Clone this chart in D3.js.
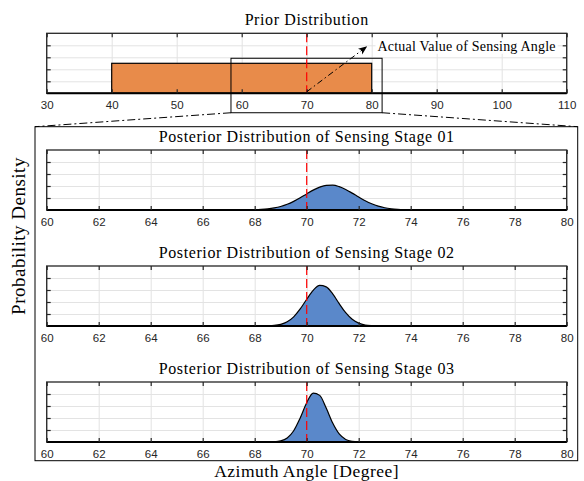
<!DOCTYPE html>
<html>
<head>
<meta charset="utf-8">
<script src="https://cdn.jsdelivr.net/npm/d3@7"></script>
<style>
  body { margin: 0; background: #fff; }
  .tick text { font-family: "Liberation Sans", Arial, sans-serif; font-size: 11.5px; fill: #262626; }
  .title { font-family: "Liberation Serif", "Times New Roman", serif; font-size: 16px; letter-spacing: 0.6px; fill: #000; }
</style>
</head>
<body>
<svg id="chart" width="584" height="481"></svg>
<script>
// prior: uniform angle range
var priorTicks = [30, 40, 50, 60, 70, 80, 90, 100, 110],
    priorRange = [40, 80],
    priorDensity = 0.025,
    priorYTicks = [0.01, 0.02, 0.03, 0.04];

// true sensing angle
var actualAngle = 70;

// posterior sample angles (deg)
var angles = [60, 67.5, 67.75, 68, 68.25, 68.5, 68.75, 69, 69.25, 69.5, 69.75, 70, 70.25, 70.5,
              70.75, 71, 71.25, 71.5, 71.75, 72, 72.25, 72.5, 72.75, 73, 73.25, 73.5, 73.75, 74, 74.25, 74.5, 80];

// posterior densities
var stage01 = [0, 0.001, 0.002, 0.004, 0.009, 0.018, 0.034, 0.059, 0.095, 0.144, 0.203, 0.268, 0.331, 0.381,
               0.411, 0.414, 0.389, 0.342, 0.281, 0.216, 0.155, 0.104, 0.065, 0.038, 0.021, 0.011, 0.005, 0.002, 0.001, 0, 0];
var stage02 = [0, 0, 0, 0, 0.001, 0.003, 0.009, 0.028, 0.071, 0.153, 0.284, 0.446, 0.595, 0.676,
               0.652, 0.535, 0.373, 0.221, 0.111, 0.048, 0.017, 0.005, 0.001, 0, 0, 0, 0, 0, 0, 0, 0];
var stage03 = [0, 0, 0, 0, 0, 0.001, 0.004, 0.018, 0.067, 0.188, 0.401, 0.654, 0.816, 0.777,
               0.566, 0.315, 0.134, 0.043, 0.011, 0.002, 0, 0, 0, 0, 0, 0, 0, 0, 0, 0, 0];

var stageTitles = ['Posterior Distribution of Sensing Stage 01',
                   'Posterior Distribution of Sensing Stage 02',
                   'Posterior Distribution of Sensing Stage 03'];
var postTicks = [60, 62, 64, 66, 68, 70, 72, 74, 76, 78, 80],
    postYTicks = [0.2, 0.4, 0.6, 0.8];

// zoom window drawn on the prior
var zoomBox = {x0: 58.35, x1: 81.6, y0: -0.0162, y1: 0.0292};
var arrowEnd = {x: 79.2, y: 0.0388};

var svg = d3.select('#chart');

//plot extent
var left = 46.7, right = 566.7, plotH = 60;
var x = d3.scaleLinear().domain([30, 110]).range([left, right]);
var xp = d3.scaleLinear().domain([60, 80]).range([left, right]);

//arrow marker
var defs = svg.append('defs');
defs.append('marker')
    .attr('id', 'arrow')
    .attr('viewBox', '0 0 10 10')
    .attr('refX', 9).attr('refY', 5)
    .attr('markerWidth', 9).attr('markerHeight', 9)
    .attr('markerUnits', 'userSpaceOnUse')
    .attr('orient', 'auto')
  .append('path')
    .attr('d', 'M0,1 L10,5 L0,9 L2.5,5 Z')
    .attr('fill', '#000');

//draw one framed panel with grid and title
function panel(top, xs, xTicks, yDomain, yTicks, title) {
    var y = d3.scaleLinear().domain(yDomain).range([top + plotH, top]);
    var g = svg.append('g');

    //grid
    g.append('g')
        .attr('transform', 'translate(0,' + top + ')')
        .call(d3.axisBottom(xs).tickValues(xTicks).tickSize(plotH).tickFormat(''))
        .call(s => s.select('.domain').remove())
        .selectAll('line').attr('stroke', '#e3e3e3');
    g.append('g')
        .attr('transform', 'translate(' + left + ',0)')
        .call(d3.axisRight(y).tickValues(yTicks).tickSize(right - left).tickFormat(''))
        .call(s => s.select('.domain').remove())
        .selectAll('line').attr('stroke', '#e3e3e3');

    //title
    svg.append('text')
        .attr('class', 'title')
        .attr('x', (left + right) / 2)
        .attr('y', top - 8)
        .attr('text-anchor', 'middle')
        .text(title);

    return {g: g, y: y, top: top, xs: xs, xTicks: xTicks, yTicks: yTicks};
}

//frame, inward ticks and labels on top of the marks
function frame(p) {
    var bottom = p.top + plotH;
    var g = svg.append('g');
    g.append('rect')
        .attr('x', left).attr('y', p.top)
        .attr('width', right - left).attr('height', plotH)
        .attr('fill', 'none').attr('stroke', '#262626').attr('stroke-width', 1.3);
    g.append('line')
        .attr('x1', left).attr('x2', right)
        .attr('y1', bottom).attr('y2', bottom)
        .attr('stroke', '#000').attr('stroke-width', 2);
    var inward = [
        ['translate(0,' + p.top + ')', d3.axisBottom(p.xs).tickValues(p.xTicks)],
        ['translate(0,' + bottom + ')', d3.axisTop(p.xs).tickValues(p.xTicks)],
        ['translate(' + left + ',0)', d3.axisRight(p.y).tickValues(p.yTicks)],
        ['translate(' + right + ',0)', d3.axisLeft(p.y).tickValues(p.yTicks)]
    ];
    inward.forEach(function(a) {
        g.append('g')
            .attr('transform', a[0])
            .call(a[1].tickSize(4).tickFormat(''))
            .call(s => s.select('.domain').remove())
            .selectAll('line').attr('stroke', '#262626').attr('stroke-width', 1.2);
    });
    //tick labels
    g.append('g')
        .attr('transform', 'translate(0,' + bottom + ')')
        .call(d3.axisBottom(p.xs).tickValues(p.xTicks).tickSize(0).tickPadding(8).tickFormat(d3.format('d')))
        .call(s => s.select('.domain').remove());
}

//red dashed truth line
function truthLine(p) {
    svg.append('line')
        .attr('x1', p.xs(actualAngle)).attr('x2', p.xs(actualAngle))
        .attr('y1', p.top).attr('y2', p.top + plotH)
        .attr('stroke', '#ff0000').attr('stroke-width', 1.2)
        .attr('stroke-dasharray', '9,4');
}

//PRIOR
var prior = panel(33.3, x, priorTicks, [0, 0.05], priorYTicks, 'Prior Distribution');
prior.g.append('rect')
    .attr('x', x(priorRange[0]))
    .attr('y', prior.y(priorDensity))
    .attr('width', x(priorRange[1]) - x(priorRange[0]))
    .attr('height', prior.y(0) - prior.y(priorDensity))
    .attr('fill', '#e88b4a')
    .attr('stroke', '#000').attr('stroke-width', 1.2);
truthLine(prior);

//annotation text with white backing
var note = svg.append('g');
var noteText = note.append('text')
    .attr('class', 'title')
    .attr('x', x(arrowEnd.x) + 11)
    .attr('y', prior.y(arrowEnd.y) + 4)
    .style('font-size', '14px')
    .style('letter-spacing', '0.2px')
    .text('Actual Value of Sensing Angle');
var bb = noteText.node().getBBox();
note.insert('rect', 'text')
    .attr('x', bb.x - 2).attr('y', bb.y)
    .attr('width', bb.width + 4).attr('height', bb.height)
    .attr('fill', '#fff');

frame(prior);

//arrow from truth to note
svg.append('line')
    .attr('x1', x(actualAngle)).attr('y1', prior.y(0) - 1.5)
    .attr('x2', x(arrowEnd.x)).attr('y2', prior.y(arrowEnd.y))
    .attr('stroke', '#000').attr('stroke-width', 1)
    .attr('stroke-dasharray', '6,3,1.5,3')
    .attr('marker-end', 'url(#arrow)');

//zoom window
svg.append('rect')
    .attr('x', x(zoomBox.x0)).attr('y', prior.y(zoomBox.y1))
    .attr('width', x(zoomBox.x1) - x(zoomBox.x0))
    .attr('height', prior.y(zoomBox.y0) - prior.y(zoomBox.y1))
    .attr('fill', 'none').attr('stroke', '#000').attr('stroke-width', 1);

//enclosing box for posteriors
var box = {x0: 35, x1: 577.7, y0: 126.7, y1: 460.7};
svg.append('rect')
    .attr('x', box.x0).attr('y', box.y0)
    .attr('width', box.x1 - box.x0).attr('height', box.y1 - box.y0)
    .attr('fill', 'none').attr('stroke', '#000').attr('stroke-width', 1);

//connectors
[[zoomBox.x0, box.x0], [zoomBox.x1, box.x1]].forEach(function(c) {
    svg.append('line')
        .attr('x1', x(c[0])).attr('y1', prior.y(zoomBox.y0))
        .attr('x2', c[1]).attr('y2', box.y0)
        .attr('stroke', '#000').attr('stroke-width', 1)
        .attr('stroke-dasharray', '8,3,2,3');
});

//POSTERIORS
var stages = [stage01, stage02, stage03],
    tops = [150, 266, 382];

stages.forEach(function(vals, i) {
    var p = panel(tops[i], xp, postTicks, [0, 1], postYTicks, stageTitles[i]);
    var area = d3.area()
        .x((d, j) => xp(angles[j]))
        .y0(p.y(0))
        .y1(d => p.y(d))
        .curve(d3.curveMonotoneX);
    var line = d3.line()
        .x((d, j) => xp(angles[j]))
        .y(d => p.y(d))
        .curve(d3.curveMonotoneX);
    p.g.append('path')
        .datum(vals)
        .attr('d', area)
        .attr('fill', '#5a88ca');
    p.g.append('path')
        .datum(vals)
        .attr('d', line)
        .attr('fill', 'none')
        .attr('stroke', '#000').attr('stroke-width', 1.2);
    truthLine(p);
    frame(p);
});

//axis labels
svg.append('text')
    .attr('class', 'title')
    .attr('x', (left + right) / 2)
    .attr('y', 476.5)
    .attr('text-anchor', 'middle')
    .style('font-size', '17.5px')
    .style('letter-spacing', '0.5px')
    .text('Azimuth Angle [Degree]');

svg.append('text')
    .attr('class', 'title')
    .attr('transform', 'translate(25,236) rotate(-90)')
    .attr('text-anchor', 'middle')
    .style('font-size', '19px')
    .style('letter-spacing', '0.5px')
    .text('Probability Density');
</script>
</body>
</html>
